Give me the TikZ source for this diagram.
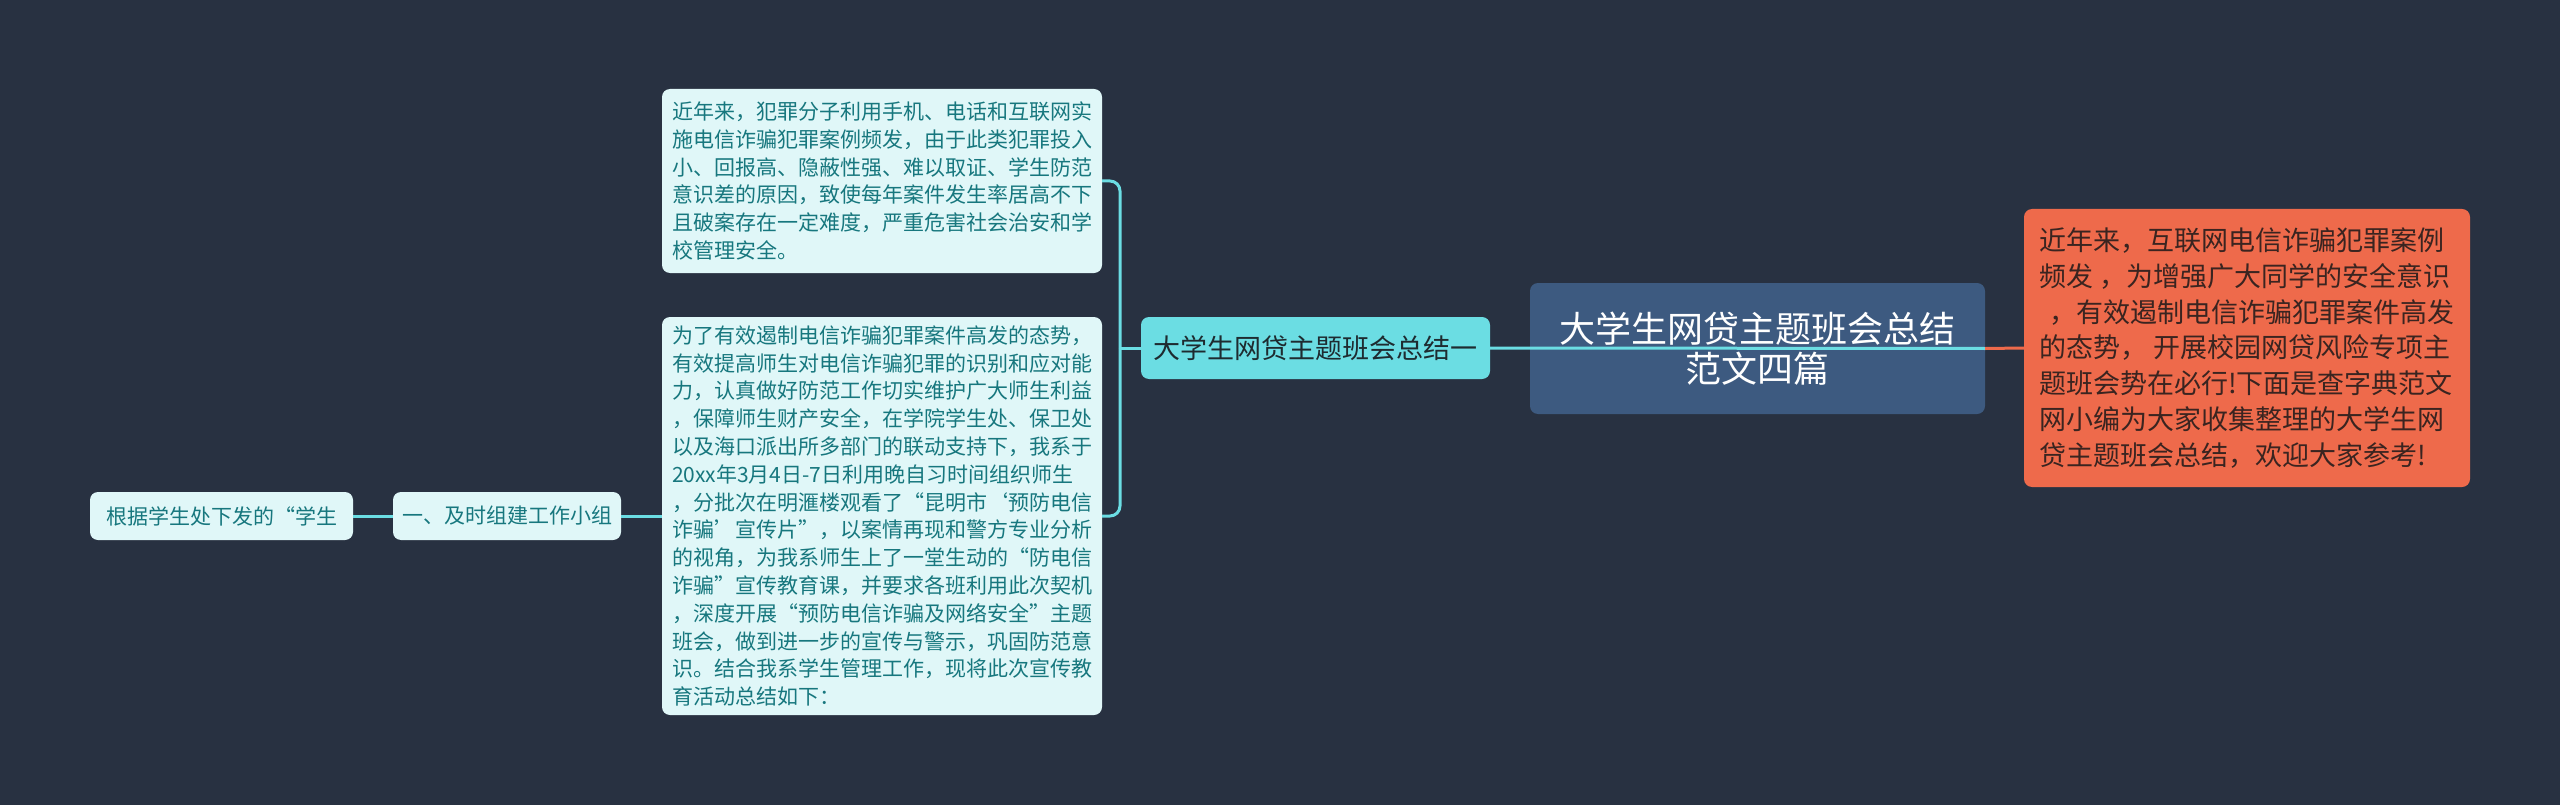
\documentclass[tikz,border=0pt]{standalone}
\usepackage{fontspec}
\setmainfont{Noto Sans CJK SC}
\definecolor{bg}{HTML}{283141}
\definecolor{mainfill}{HTML}{3D5A80}
\definecolor{cyanfill}{HTML}{6BDDE3}
\definecolor{orangefill}{HTML}{EE6A4B}
\definecolor{lightfill}{HTML}{E0F7F8}
\definecolor{tealtext}{HTML}{17777E}
\definecolor{darktext}{HTML}{1E2B30}
\definecolor{orangetext}{HTML}{3A2420}
\begin{document}
\begin{tikzpicture}[x=1pt,y=-1pt,
  box/.style={rounded corners=8pt, inner sep=0pt},
  leaf/.style={box, fill=lightfill, text=tealtext, align=left,
    font=\fontsize{21pt}{27.8pt}\selectfont},
  smallleaf/.style={box, fill=lightfill, text=tealtext,
    font=\fontsize{21pt}{24pt}\selectfont},
  conn/.style={draw=cyanfill, line width=3pt},
  oconn/.style={draw=orangefill, line width=3pt}]
\fill[bg] (0,0) rectangle (2560,805);
\useasboundingbox (0,0) rectangle (2560,805);

\node[box, fill=mainfill, text=white, align=center,
  minimum width=455pt, minimum height=131pt,
  font=\fontsize{36pt}{40pt}\selectfont] (main) at (1757.5,348.5)
  {大学生网贷主题班会总结\\范文四篇};

\node[box, fill=cyanfill, text=darktext, minimum width=349pt, minimum height=62pt,
  font=\fontsize{27pt}{30pt}\selectfont] (cy) at (1315.5,348) {大学生网贷主题班会总结一};

\node[box, fill=orangefill, text=orangetext, align=left,
  minimum width=446pt, minimum height=278pt,
  font=\fontsize{27pt}{35.8pt}\selectfont] (or) at (2247,348)
  {近年来，互联网电信诈骗犯罪案例\\
   频发 ，为增强广大同学的安全意识\\
   \hspace*{0.4em}，有效遏制电信诈骗犯罪案件高发\\
   的态势， 开展校园网贷风险专项主\\
   题班会势在必行!下面是查字典范文\\
   网小编为大家收集整理的大学生网\\
   贷主题班会总结，欢迎大家参考!};

\node[leaf, minimum width=440pt, minimum height=184pt] (b1) at (882,181)
  {近年来，犯罪分子利用手机、电话和互联网实\\
   施电信诈骗犯罪案例频发，由于此类犯罪投入\\
   小、回报高、隐蔽性强、难以取证、学生防范\\
   意识差的原因，致使每年案件发生率居高不下\\
   且破案存在一定难度，严重危害社会治安和学\\
   校管理安全。};

\node[leaf, minimum width=440pt, minimum height=398pt] (b2) at (882,516)
  {为了有效遏制电信诈骗犯罪案件高发的态势，\\
   有效提高师生对电信诈骗犯罪的识别和应对能\\
   力，认真做好防范工作切实维护广大师生利益\\
   ，保障师生财产安全，在学院学生处、保卫处\\
   以及海口派出所多部门的联动支持下，我系于\\
   20xx年3月4日-7日利用晚自习时间组织师生\\
   ，分批次在明滙楼观看了“昆明市‘预防电信\\
   诈骗’宣传片”，以案情再现和警方专业分析\\
   的视角，为我系师生上了一堂生动的“防电信\\
   诈骗”宣传教育课，并要求各班利用此次契机\\
   ，深度开展“预防电信诈骗及网络安全”主题\\
   班会，做到进一步的宣传与警示，巩固防范意\\
   识。结合我系学生管理工作，现将此次宣传教\\
   育活动总结如下：};

\node[smallleaf, minimum width=228pt, minimum height=48pt] (s2) at (507,516)
  {一、及时组建工作小组};
\node[smallleaf, minimum width=263pt, minimum height=48pt] (s1) at (221.5,516)
  {根据学生处下发的“学生};

\coordinate (j) at (1120,348);
\draw[conn, rounded corners=10pt] (b1.east) -| (j);
\draw[conn, rounded corners=10pt] (b2.east) -| (j);
\draw[conn] (j) -- (cy.west);
\draw[conn] (s1.east) -- (s2.west);
\draw[conn] (s2.east) -- (b2.west);
\draw[conn] (cy.east) -- (main.east);
\draw[oconn] (main.east) -- (or.west);
\end{tikzpicture}
\end{document}
